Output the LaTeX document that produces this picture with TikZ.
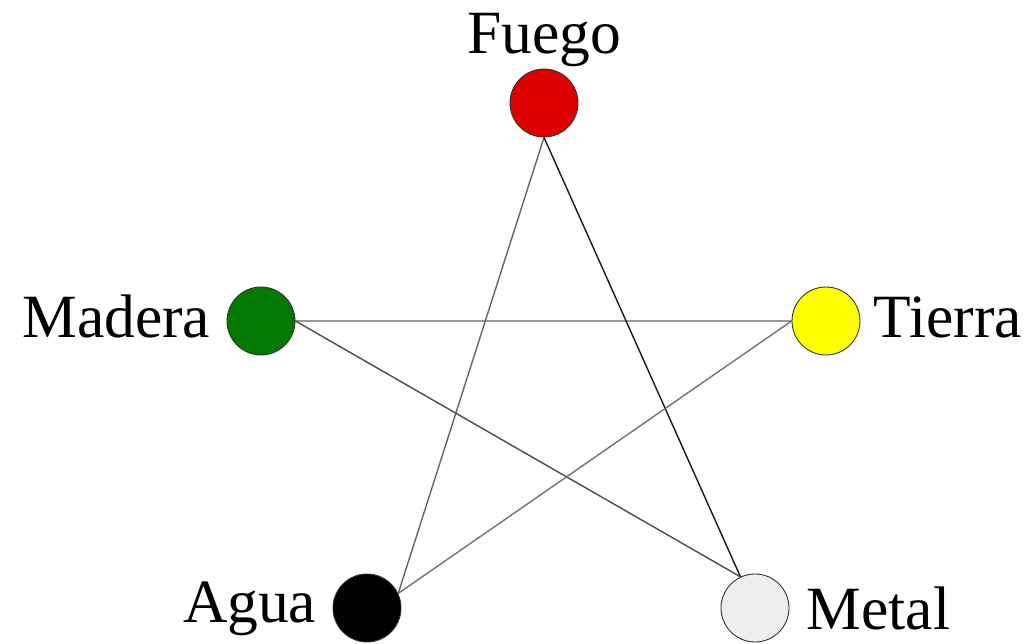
\documentclass[tikz,border=0pt]{standalone}
\usepackage{fontspec}
\setmainfont{Liberation Serif}
\usepackage{xcolor}
\usetikzlibrary{positioning,backgrounds}
\definecolor{fuegored}{HTML}{DD0000}
\definecolor{maderagreen}{HTML}{007A00}
\definecolor{tierrayellow}{HTML}{FFFF00}
\definecolor{metalgray}{HTML}{EEEEEE}
\definecolor{rim}{HTML}{333333}
\tikzset{
  element/.style={circle,draw=rim,line width=0.5pt,
                  minimum size=1.36cm,inner sep=0pt},
  tag/.style={inner sep=0pt,font=\fontsize{35}{40}\selectfont},
  link/.style={line width=0.8pt}
}
\begin{document}
\begin{tikzpicture}[x=0.02cm,y=-0.02cm]
      \useasboundingbox (0,0) rectangle (1032,644);
      \node[element,fill=fuegored] (fuego) at (544,103) {};
      \node[element,fill=maderagreen] (madera) at (261,321) {};
      \node[element,fill=tierrayellow] (tierra) at (826,321) {};
      \node[element,fill=black] (agua) at (367,608) {};
      \node[element,fill=metalgray] (metal) at (755,608) {};
      \node[tag,anchor=base] (tfuego) at ([yshift=0.3cm]fuego.north) {Fuego};
      \node[tag,anchor=base east] (tmadera) at ([xshift=-0.32cm,yshift=-0.34cm]madera.west) {Madera};
      \node[tag,anchor=base west] (ttierra) at ([xshift=0.26cm,yshift=-0.34cm]tierra.east) {Tierra};
      \node[tag,anchor=base east] (tagua) at ([xshift=-0.32cm,yshift=-0.3cm]agua.west) {Agua};
      \node[tag,anchor=base west] (tmetal) at ([xshift=0.34cm,yshift=-0.44cm]metal.east) {Metal};
      \begin{scope}[on background layer]
        \draw[link,line width=1.1pt,color=black!40] (madera.east)--(tierra.west);
        \draw[link,color=black!60] (fuego.south)--(agua.25);
        \draw[link,color=black!90] (fuego.south)--(metal.115);
        \draw[link,color=black!70] (madera.east)--(metal.115);
        \draw[link,color=black!55] (tierra.west)--(agua.25);
      \end{scope}
    \end{tikzpicture}
\end{document}
